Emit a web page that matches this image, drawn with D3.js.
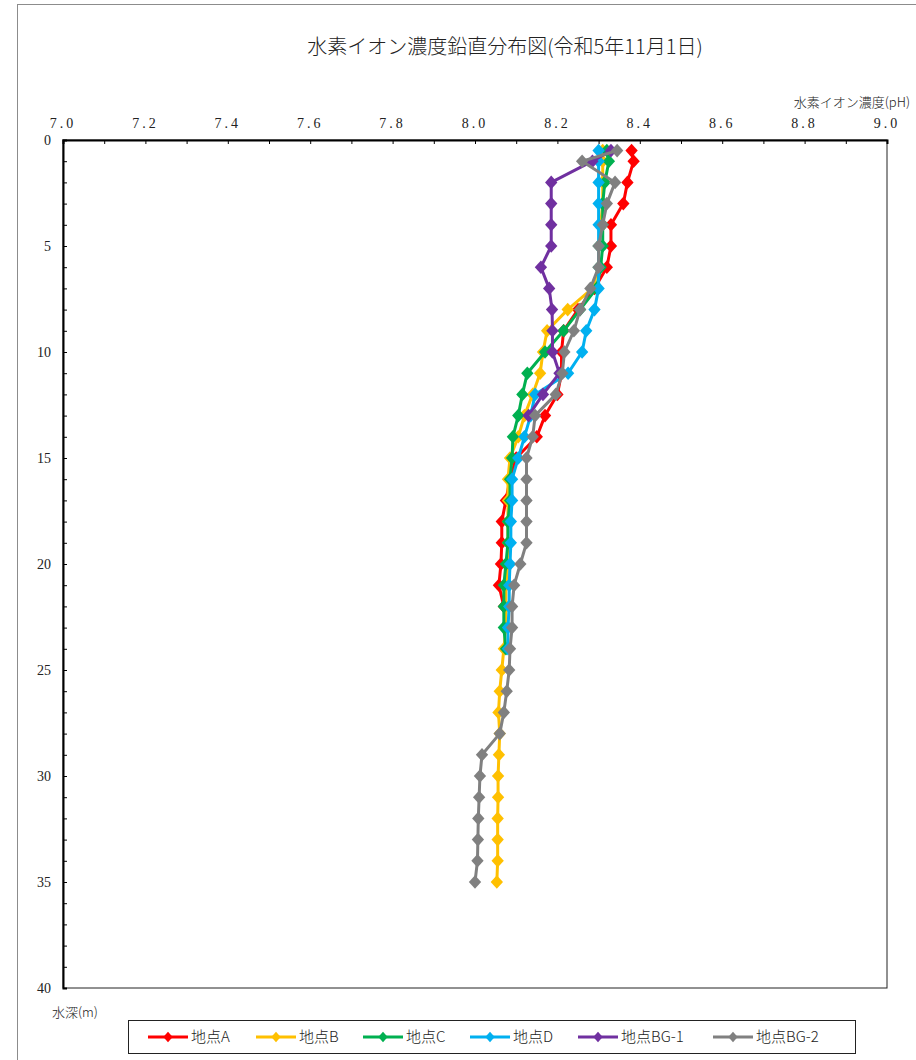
<!DOCTYPE html>
<html><head><meta charset="utf-8">
<script src="https://cdn.jsdelivr.net/npm/d3@7"></script>
<style>body{margin:0;background:#fff}svg{display:block}</style>
</head><body>
<svg id="c" width="916" height="1060"></svg>
<script>
const title = "水素イオン濃度鉛直分布図(令和5年11月1日)";
const xTitle = "水素イオン濃度(pH)";
const yTitle = "水深(m)";
const xTickLabels = ["7.0","7.2","7.4","7.6","7.8","8.0","8.2","8.4","8.6","8.8","9.0"];
const yTickLabels = ["0","5","10","15","20","25","30","35","40"];
const seriesNames = ["地点A","地点B","地点C","地点D","地点BG-1","地点BG-2"];
const seriesColors = ["#FF0000","#FFC000","#00B050","#00B0F0","#7030A0","#808080"];

const depthsA = [0.5,1,2,3,4,5,6,7,8,9,10,11,12,13,14,15,16,17,18,19,20,21,22];
const phA = [8.38,8.385,8.37,8.36,8.33,8.33,8.32,8.29,8.25,8.215,8.21,8.21,8.20,8.17,8.15,8.10,8.085,8.075,8.065,8.065,8.063,8.058,8.07];

const depthsB = [0.5,1,2,3,4,5,6,7,8,9,10,11,12,13,14,15,16,17,18,19,20,21,22,23,24,25,26,27,28,29,30,31,32,33,34,35];
const phB = [8.31,8.31,8.31,8.31,8.305,8.30,8.30,8.285,8.225,8.175,8.165,8.158,8.14,8.12,8.105,8.085,8.08,8.08,8.08,8.08,8.08,8.075,8.075,8.075,8.07,8.065,8.06,8.057,8.06,8.058,8.056,8.056,8.055,8.055,8.055,8.053];

const depthsC = [0.5,1,2,3,4,5,6,7,8,9,10,11,12,13,14,15,16,17,18,19,20,21,22,23,24];
const phC = [8.32,8.325,8.315,8.31,8.31,8.31,8.305,8.295,8.255,8.215,8.17,8.127,8.115,8.105,8.092,8.09,8.085,8.085,8.08,8.08,8.075,8.07,8.07,8.07,8.075];

const depthsD = [0.5,1,2,3,4,5,6,7,8,9,10,11,12,13,14,15,16,17,18,19,20,21,22,23,24];
const phD = [8.30,8.30,8.30,8.30,8.30,8.30,8.30,8.30,8.29,8.27,8.26,8.226,8.146,8.135,8.12,8.105,8.09,8.09,8.087,8.087,8.085,8.083,8.083,8.08,8.08];

const depthsBG1 = [0.5,1,2,3,4,5,6,7,8,9,10,11,12,13];
const phBG1 = [8.33,8.285,8.185,8.185,8.185,8.185,8.16,8.18,8.187,8.188,8.188,8.205,8.165,8.13];

const depthsBG2 = [0.5,1,2,3,4,5,6,7,8,9,10,11,12,13,14,15,16,17,18,19,20,21,22,23,24,25,26,27,28,29,30,31,32,33,34,35];
const phBG2 = [8.345,8.26,8.34,8.32,8.31,8.30,8.30,8.28,8.255,8.24,8.217,8.212,8.196,8.146,8.14,8.125,8.125,8.125,8.125,8.125,8.11,8.095,8.09,8.09,8.085,8.083,8.077,8.07,8.06,8.017,8.012,8.01,8.008,8.007,8.006,8.00];

const seriesDepths = [depthsA,depthsB,depthsC,depthsD,depthsBG1,depthsBG2];
const seriesPh = [phA,phB,phC,phD,phBG1,phBG2];

const svg = d3.select("#c");
const L=63,R=887,T=140,B=988;
const x = d3.scaleLinear().domain([7,9]).range([L,R]);
const y = d3.scaleLinear().domain([0,40]).range([T,B]);
const serif = "'Liberation Serif','DejaVu Serif',serif";
const jp = "'Noto Sans CJK JP','Noto Sans',sans-serif";

// outer chart frame
svg.append("rect").attr("x",17.5).attr("y",4.5).attr("width",1000).attr("height",1100)
  .attr("fill","none").attr("stroke","#8c8c8c").attr("stroke-width",1);

// title
svg.append("text").attr("x",505).attr("y",54).attr("text-anchor","middle")
  .attr("font-family",jp).attr("font-size",20).attr("font-weight",300).attr("fill","#222").text(title);

// plot frame
svg.append("rect").attr("x",L).attr("y",T).attr("width",R-L).attr("height",B-T)
  .attr("fill","none").attr("stroke","#222").attr("stroke-width",1);

// top axis (minor ticks every 0.1)
const xt = d3.range(0,21).map(i=>7+i*0.1);
svg.append("g").attr("transform",`translate(0,${T})`)
  .call(d3.axisTop(x).tickValues(xt).tickSize(-4).tickFormat(""))
  .call(g=>g.select(".domain").attr("stroke","#000").attr("stroke-width",2))
  .call(g=>g.selectAll(".tick line").attr("stroke","#000"));
svg.append("g").selectAll("text").data(xTickLabels).join("text")
  .attr("x",d=>x(+d)).attr("y",128).attr("text-anchor","middle")
  .attr("font-family",serif).attr("font-size",14).attr("letter-spacing",3).attr("fill","#222")
  .text(d=>d);

// left axis (minor ticks every 1 m)
const yt = d3.range(0,41);
svg.append("g").attr("transform",`translate(${L},0)`)
  .call(d3.axisLeft(y).tickValues(yt).tickSize(-4).tickFormat(""))
  .call(g=>g.select(".domain").attr("stroke","#000").attr("stroke-width",2))
  .call(g=>g.selectAll(".tick line").attr("stroke","#000"));
svg.append("g").selectAll("text").data(yTickLabels).join("text")
  .attr("x",51).attr("y",d=>y(+d)+5).attr("text-anchor","end")
  .attr("font-family",serif).attr("font-size",14).attr("fill","#222").text(d=>d);

// axis titles
svg.append("text").attr("x",910).attr("y",107).attr("text-anchor","end")
  .attr("font-family",jp).attr("font-size",13).attr("font-weight",300).attr("fill","#222").text(xTitle);
svg.append("text").attr("x",52).attr("y",1017).attr("text-anchor","start")
  .attr("font-family",jp).attr("font-size",13).attr("font-weight",300).attr("fill","#222").text(yTitle);

// series
const line = d3.line().x(d=>x(d.ph)).y(d=>y(d.depth));
const marker = d3.symbol().type(d3.symbolSquare).size(76);
const plot = svg.append("g");
seriesNames.forEach((name,i)=>{
  const pts = seriesDepths[i].map((dp,j)=>({depth:dp, ph:seriesPh[i][j]}));
  const g = plot.append("g");
  g.append("path").datum(pts).attr("d",line).attr("fill","none")
    .attr("stroke",seriesColors[i]).attr("stroke-width",3).attr("stroke-linejoin","round");
  g.selectAll("path.m").data(pts).join("path").attr("class","m")
    .attr("d",marker).attr("fill",seriesColors[i])
    .attr("transform",d=>`translate(${x(d.ph)},${y(d.depth)}) scale(1,1.1) rotate(45)`);
});

// legend
const lg = svg.append("g");
lg.append("rect").attr("x",128.5).attr("y",1020.5).attr("width",727).attr("height",33)
  .attr("fill","#fff").attr("stroke","#222").attr("stroke-width",1);
const legendX = [148,256,363,470,578,713];
seriesNames.forEach((name,i)=>{
  const lx = legendX[i], ly = 1037;
  lg.append("line").attr("x1",lx).attr("x2",lx+40).attr("y1",ly).attr("y2",ly)
    .attr("stroke",seriesColors[i]).attr("stroke-width",3);
  lg.append("path").attr("d",d3.symbol().type(d3.symbolSquare).size(44)())
    .attr("fill",seriesColors[i]).attr("transform",`translate(${lx+20},${ly}) scale(1,1.1) rotate(45)`);
  lg.append("text").attr("x",lx+43).attr("y",ly+5).attr("font-family",jp).attr("font-size",15)
    .attr("font-weight",300).attr("fill","#222").text(name);
});
</script>
</body></html>
